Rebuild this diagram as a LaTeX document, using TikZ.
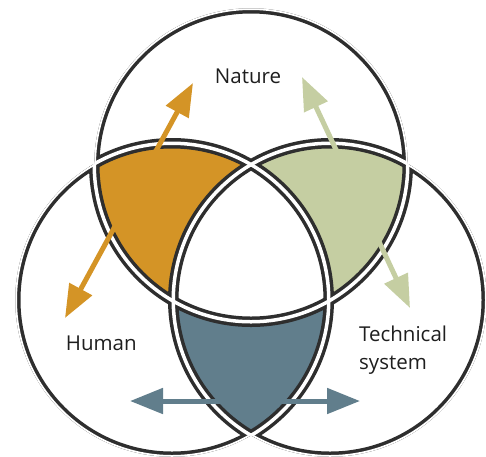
\documentclass[tikz,border=0pt]{standalone}
\usepackage{fontspec}
\setmainfont{Open Sans}
\usetikzlibrary{arrows.meta}
\definecolor{dark}{HTML}{2E2E2E}
\definecolor{txt}{HTML}{1E1E1E}
\definecolor{orng}{HTML}{D49426}
\definecolor{sage}{HTML}{C5CEA2}
\definecolor{slate}{HTML}{617E8C}
\begin{document}
\begin{tikzpicture}[x=1pt,y=-1pt,
  lbl/.style={font=\fontsize{20.5}{27.5}\selectfont, text=txt, inner sep=0pt},
  arr/.style={line width=5pt, {Triangle[length=33pt,width=25pt]}-{Triangle[length=33pt,width=25pt]}},
  outline/.style={dark, line width=10.5pt},
  gap/.style={white, line width=3.5pt}
]
\useasboundingbox (0,0) rectangle (486,456);
\def\rc{156.75pt}
\coordinate (T) at (251,165);
\coordinate (L) at (172,300);
\coordinate (R) at (330,300);
% coloured regions
\begin{scope}
  \clip (T) circle (\rc);
  \clip (L) circle (\rc);
  \fill[orng] (0,0) rectangle (486,456);
\end{scope}
\begin{scope}
  \clip (T) circle (\rc);
  \clip (R) circle (\rc);
  \fill[sage] (0,0) rectangle (486,456);
\end{scope}
\begin{scope}
  \clip (L) circle (\rc);
  \clip (R) circle (\rc);
  \fill[slate] (0,0) rectangle (486,456);
\end{scope}
\begin{scope}
  \clip (L) circle (\rc);
  \clip (R) circle (\rc);
  \clip (T) circle (\rc);
  \fill[white] (0,0) rectangle (486,456);
\end{scope}
% outlines with gaps, clipped to the union
\begin{scope}
  \clip (T) circle (\rc) (L) circle (\rc) (R) circle (\rc);
  \draw[outline] (T) circle (\rc);
  \draw[outline] (L) circle (\rc);
  \draw[outline] (R) circle (\rc);
  \draw[gap] (T) circle (\rc);
  \draw[gap] (L) circle (\rc);
  \draw[gap] (R) circle (\rc);
\end{scope}
% arrows
\coordinate (o1) at (193,83);
\coordinate (o2) at (65,318);
\coordinate (g1) at (302,77);
\coordinate (g2) at (410,308);
\coordinate (b1) at (130,401);
\coordinate (b2) at (360,401);
\draw[arr, orng] (o1) -- (o2);
\draw[arr, sage] (g1) -- (g2);
\draw[arr, slate] (b1) -- (b2);
% labels
\node[lbl, anchor=base] (nat) at (248,83.5) {Nature};
\node[lbl, anchor=base] (hum) at (101.3,350.7) {Human};
\node[lbl, anchor=north west, align=left] (tec) at (359,326) {Technical\\system};
\end{tikzpicture}
\end{document}
